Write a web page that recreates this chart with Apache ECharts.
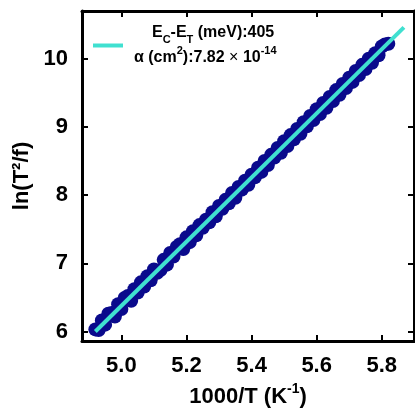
<!DOCTYPE html>
<html>
<head>
<meta charset="utf-8">
<script src="https://cdn.jsdelivr.net/npm/echarts@6/dist/echarts.min.js"></script>
<style>html,body{margin:0;padding:0;background:#fff}#c{width:415px;height:413px}</style>
</head>
<body>
<div id="c"></div>
<script>
// Measured points: 1000/T (K^-1) and ln(T^2/f)
var xData = [4.920,4.930,4.940,4.950,4.960,4.970,4.980,4.990,5.000,5.010,5.020,5.030,5.040,5.050,5.060,5.070,5.080,5.090,5.100,5.110,5.120,5.130,5.140,5.150,5.160,5.170,5.180,5.190,5.200,5.210,5.220,5.230,5.240,5.250,5.260,5.270,5.280,5.290,5.300,5.310,5.320,5.330,5.340,5.350,5.360,5.370,5.380,5.390,5.400,5.410,5.420,5.430,5.440,5.450,5.460,5.470,5.480,5.490,5.500,5.510,5.520,5.530,5.540,5.550,5.560,5.570,5.580,5.590,5.600,5.610,5.620,5.630,5.640,5.650,5.660,5.670,5.680,5.690,5.700,5.710,5.720,5.730,5.740,5.750,5.760,5.770,5.780,5.790,5.800,5.810,5.820];
var yData = [6.03,6.02,6.16,6.10,6.26,6.27,6.22,6.40,6.33,6.49,6.52,6.45,6.62,6.57,6.72,6.66,6.81,6.75,6.91,6.86,6.90,7.05,6.98,7.15,7.10,7.24,7.28,7.21,7.38,7.31,7.47,7.41,7.56,7.52,7.64,7.60,7.75,7.69,7.84,7.80,7.93,7.88,8.03,7.96,8.12,8.08,8.21,8.15,8.30,8.26,8.40,8.34,8.50,8.44,8.59,8.55,8.69,8.62,8.79,8.72,8.88,8.82,8.97,8.90,9.07,9.01,9.16,9.10,9.26,9.19,9.35,9.28,9.44,9.38,9.54,9.47,9.63,9.57,9.72,9.66,9.82,9.76,9.91,9.85,10.00,9.94,10.08,10.05,10.18,10.21,10.22];
// Arrhenius fit line end points
var fitX = [4.92, 5.868];
var fitY = [6.00, 10.46];
// Tick values
var xTicks = [5.0, 5.2, 5.4, 5.6, 5.8];
var yTicks = [6, 7, 8, 9, 10];

var scatterData = xData.map(function (x, i) { return [x, yData[i]]; });
var fitData = fitX.map(function (x, i) { return [x, fitY[i]]; });

var axisLineStyle = { show: true, lineStyle: { color: '#000', width: 3 } };
var tickStyle = function (vals) { return { show: true, inside: true, length: 6, lineStyle: { color: '#000', width: 2 }, customValues: vals }; };
var labelFont = { fontFamily: 'Liberation Sans, Arial, sans-serif', fontWeight: 'bold', fontSize: 22, color: '#000' };

var chart = echarts.init(document.getElementById('c'), null, { renderer: 'canvas' });
chart.setOption({
  animation: false,
  backgroundColor: '#fff',
  grid: { left: 82, top: 11, width: 332, height: 332, containLabel: false },
  legend: {
    data: ['fit'],
    left: 88,
    top: 20,
    icon: 'rect',
    itemWidth: 30,
    itemHeight: 4,
    itemGap: 0,
    textStyle: {
      fontFamily: 'Liberation Sans, Arial, sans-serif',
      fontWeight: 'bold', fontSize: 16, color: '#000',
      rich: {
        pad: { width: 24, lineHeight: 25 },
        pad2: { width: 6, lineHeight: 25 },
        b: { fontSize: 16, fontWeight: 'bold', lineHeight: 25, color: '#000' },
        x: { fontSize: 16, fontWeight: 'normal', lineHeight: 25, color: '#000' },
        sub: { fontSize: 11, fontWeight: 'bold', verticalAlign: 'bottom', lineHeight: 16, color: '#000' },
        sup: { fontSize: 11, fontWeight: 'bold', verticalAlign: 'top', lineHeight: 19, color: '#000' }
      }
    },
    formatter: function () {
      return '{pad| }{b|E}{sub|C}{b|-E}{sub|T}{b| (meV):405}\n{pad2| }{b|α (cm}{sup|2}{b|):7.82 }{x|×}{b| 10}{sup|-14}';
    }
  },
  xAxis: [{
    type: 'value', position: 'bottom', min: 4.879, max: 5.899,
    axisLine: axisLineStyle, axisTick: tickStyle(xTicks), splitLine: { show: false },
    axisLabel: Object.assign({ customValues: xTicks, margin: 14, formatter: function (v) { return v.toFixed(1); } }, labelFont),
    name: '1000/T (K{sup|-1})', nameLocation: 'middle', nameGap: 41,
    nameTextStyle: { fontFamily: 'Liberation Sans, Arial, sans-serif', fontWeight: 'bold', fontSize: 22, color: '#000',
      rich: { sup: { fontSize: 14, fontWeight: 'bold', verticalAlign: 'top', lineHeight: 30, color: '#000' } } }
  }, {
    type: 'value', position: 'top', min: 4.879, max: 5.899,
    axisLine: axisLineStyle, axisTick: tickStyle(xTicks), axisLabel: { show: false }, splitLine: { show: false }
  }],
  yAxis: [{
    type: 'value', position: 'left', min: 5.86, max: 10.70,
    axisLine: axisLineStyle, axisTick: tickStyle(yTicks), splitLine: { show: false },
    axisLabel: Object.assign({ customValues: yTicks, margin: 14 }, labelFont),
    name: 'ln(T²/f)', nameLocation: 'middle', nameGap: 47, nameRotate: 90,
    nameTextStyle: { fontFamily: 'Liberation Sans, Arial, sans-serif', fontWeight: 'bold', fontSize: 22, color: '#000' }
  }, {
    type: 'value', position: 'right', min: 5.86, max: 10.70,
    axisLine: axisLineStyle, axisTick: tickStyle(yTicks), axisLabel: { show: false }, splitLine: { show: false }
  }],
  series: [{
    name: 'data', type: 'scatter', data: scatterData, symbolSize: 14,
    itemStyle: { color: '#0a0a8c', opacity: 1 }, z: 2
  }, {
    name: 'fit', type: 'line', data: fitData, showSymbol: false, symbol: 'none',
    lineStyle: { color: '#40e0d0', width: 4 }, itemStyle: { color: '#40e0d0' }, z: 3
  }]
});
</script>
</body>
</html>
